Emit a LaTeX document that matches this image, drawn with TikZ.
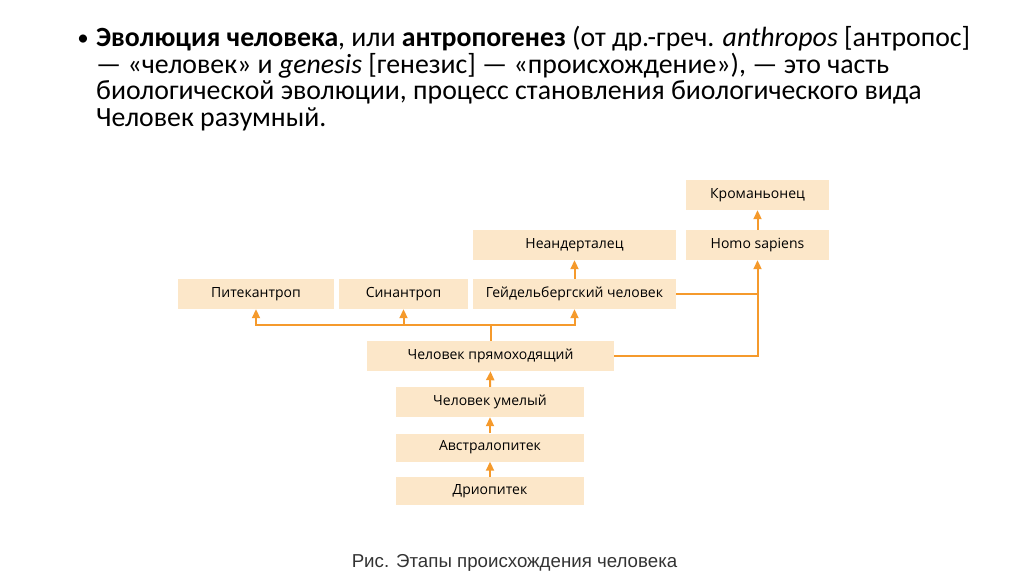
\documentclass[tikz,border=0pt]{standalone}
\usepackage{fontspec}
\setmainfont{Carlito}
\newfontfamily\boxfont{Open Sans}
\newfontfamily\capfont{Liberation Sans}
\usetikzlibrary{arrows.meta}
\definecolor{boxfill}{HTML}{FCE7C9}
\definecolor{arrcol}{HTML}{F59A2C}
\tikzset{
  stagebox/.style={fill=boxfill, draw=none, inner sep=0pt, font=\boxfont\fontsize{14}{16}\selectfont, text=black},
  conn/.style={draw=arrcol, line width=2pt},
  arr/.style={conn, -{Triangle[width=8pt,length=9pt]}},
  titleline/.style={anchor=base west, inner sep=0pt, font=\fontsize{27.8}{27}\selectfont, text=black}
}
\begin{document}
\begin{tikzpicture}[x=1pt,y=-1pt]
\useasboundingbox (0,0) rectangle (1024,574);
% title
\node[titleline, anchor=base, font=\fontsize{23}{27}\selectfont] (bul) at (83,45) {•};
\node[titleline] (t1) at (96,46.5) {\textbf{Эволюция человека}, или \textbf{антропогенез} (от др.-греч. \textit{anthropos} [антропос]};
\node[titleline] (t2) at (96,73.2) {— «человек» и \textit{genesis} [генезис] — «происхождение»), — это часть};
\node[titleline] (t3) at (96,99.8) {биологической эволюции, процесс становления биологического вида};
\node[titleline] (t4) at (96,126.3) {Человек разумный.};
% boxes
\node[stagebox, minimum width=143pt, minimum height=30pt] (krom) at (757.5,195) {Кроманьонец};
\node[stagebox, minimum width=143pt, minimum height=30pt] (homo) at (757.5,245) {Homo sapiens};
\node[stagebox, minimum width=203pt, minimum height=30pt] (nean) at (574.5,245) {Неандерталец};
\node[stagebox, minimum width=156pt, minimum height=30pt] (pit) at (256,294) {Питекантроп};
\node[stagebox, minimum width=129pt, minimum height=30pt] (sin) at (403.5,294) {Синантроп};
\node[stagebox, minimum width=203pt, minimum height=30pt] (geid) at (574.5,294) {Гейдельбергский человек};
\node[stagebox, minimum width=247pt, minimum height=30pt] (pryam) at (490.5,356) {Человек прямоходящий};
\node[stagebox, minimum width=188pt, minimum height=30pt] (umel) at (490,402) {Человек умелый};
\node[stagebox, minimum width=188pt, minimum height=28pt] (avstr) at (490,447.5) {Австралопитек};
\node[stagebox, minimum width=188pt, minimum height=28pt] (drio) at (490,491) {Дриопитек};
% connectors
\coordinate (j) at (490.5,325);
\draw[conn] (pryam.north) -- (j);
\draw[arr] (j) -| (pit.south);
\draw[arr] (j) -| (geid.south);
\draw[arr] (sin.south |- j) -- (sin.south);
\draw[arr] (geid.north) -- (nean.south);
\draw[arr] (homo.north) -- (krom.south);
\draw[conn] (geid.east) -- (geid.east -| homo.south);
\draw[arr] (pryam.east) -| (homo.south);
\draw[arr] (drio.north) -- (avstr.south);
\draw[arr] (avstr.north) -- (umel.south);
\draw[arr] (umel.north) -- (pryam.south);
% caption
\node[inner sep=0pt, anchor=base, font=\capfont\fontsize{18.7}{22}\selectfont, text=black!80] (cap) at (514.5,567) {Рис. Этапы происхождения человека};
\end{tikzpicture}
\end{document}
